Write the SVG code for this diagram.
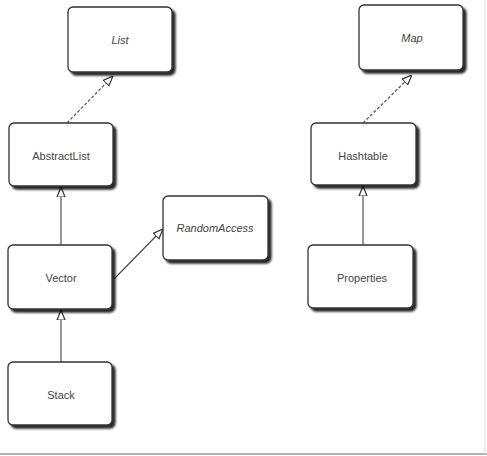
<svg xmlns="http://www.w3.org/2000/svg" width="487" height="456" viewBox="0 0 487 456">
<defs>
<filter id="sh" x="-10%" y="-10%" width="130%" height="140%">
<feGaussianBlur in="SourceAlpha" stdDeviation="1.2"/>
<feOffset dx="3" dy="3" result="b"/>
<feComponentTransfer><feFuncA type="linear" slope="0.85"/></feComponentTransfer>
<feMerge><feMergeNode/><feMergeNode in="SourceGraphic"/></feMerge>
</filter>
<marker id="tri" viewBox="0 0 10 10" refX="10" refY="5" markerWidth="10" markerHeight="10" markerUnits="userSpaceOnUse" orient="auto">
<path d="M0,1 L10,5 L0,9 Z" fill="#fff" stroke="#333" stroke-width="1.2"/>
</marker>
</defs>
<style>
.box{fill:#fff;stroke:#333;stroke-width:1.3;filter:url(#sh)}
.t{font-family:"Liberation Sans",Arial,sans-serif;font-size:11px;fill:#444;text-anchor:middle;dominant-baseline:central}
.i{font-style:italic}
.c{stroke:#444;stroke-width:1.1;fill:none;marker-end:url(#tri)}
.d{stroke-dasharray:3,2}
</style>
<rect width="487" height="456" fill="#fff"/>
<line x1="0" y1="454" x2="487" y2="454" stroke="#999" stroke-width="1.5"/>
<line x1="485" y1="0" x2="485" y2="454" stroke="#ddd" stroke-width="1"/>
<g id="connectors">
<line class="c d" x1="67" y1="123" x2="113" y2="76"/>
<line class="c" x1="61" y1="245" x2="61" y2="187"/>
<line class="c" x1="61" y1="362" x2="61" y2="310"/>
<line class="c" x1="114" y1="279" x2="163" y2="229"/>
<line class="c d" x1="363" y1="123" x2="412" y2="75"/>
<line class="c" x1="363" y1="245" x2="363" y2="186"/>
</g>
<g id="List"><rect class="box" x="68" y="7" width="104" height="65" rx="5"/><text class="t i" x="120" y="40">List</text></g>
<g id="AbstractList"><rect class="box" x="9" y="123" width="104" height="63" rx="5"/><text class="t" x="61" y="156">AbstractList</text></g>
<g id="RandomAccess"><rect class="box" x="163" y="196" width="105" height="64" rx="5"/><text class="t i" x="215" y="228">RandomAccess</text></g>
<g id="Vector"><rect class="box" x="8" y="245" width="104" height="64" rx="5"/><text class="t" x="61" y="278">Vector</text></g>
<g id="Stack"><rect class="box" x="8" y="362" width="104" height="63" rx="5"/><text class="t" x="61" y="395">Stack</text></g>
<g id="Map"><rect class="box" x="359" y="5" width="104" height="65" rx="5"/><text class="t i" x="412" y="38">Map</text></g>
<g id="Hashtable"><rect class="box" x="311" y="123" width="105" height="62" rx="5"/><text class="t" x="363" y="156">Hashtable</text></g>
<g id="Properties"><rect class="box" x="308" y="245" width="105" height="63" rx="5"/><text class="t" x="362" y="278">Properties</text></g>
</svg>
